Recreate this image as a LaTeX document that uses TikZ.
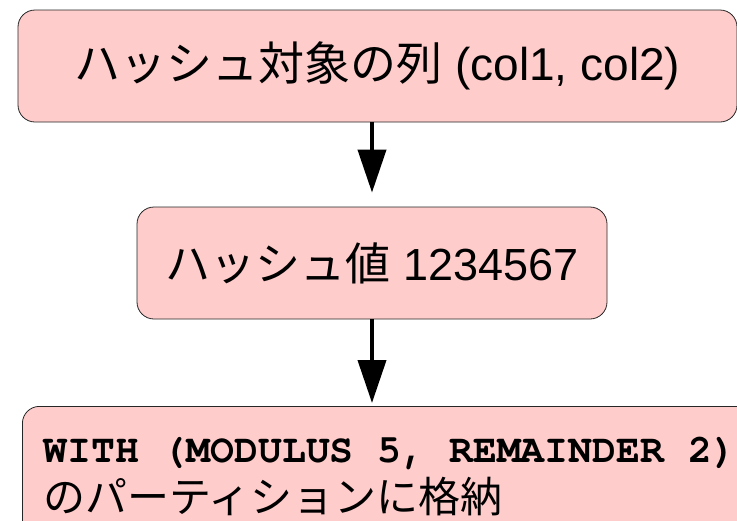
\documentclass[tikz,border=0pt]{standalone}
\usepackage{fontspec}
\setmainfont{Liberation Sans}
\setmonofont{TeX Gyre Cursor}[WordSpace={1,0,0}]
\newfontfamily\jp{Noto Sans CJK JP}
\usetikzlibrary{arrows.meta,positioning}

\begin{document}
\begin{tikzpicture}[x=1pt,y=-1pt,line width=4pt,
    >={Triangle[length=43pt,width=28pt]},
    stage node/.style={draw=black!85,line width=0.8pt,fill={rgb,255:red,255;green,204;blue,204},
        rounded corners=17pt,font=\fontsize{45}{52}\selectfont,inner sep=0pt}]

                \useasboundingbox (0,0) rectangle (737,520);
                \clip (0,0) rectangle (737,520);

                \node[stage node, minimum width=719pt, minimum height=112pt] (cols) at (377.5,66)
                    {{\jp\fontsize{46}{52}\selectfont ハッシュ対象の列} {\fontsize{46}{52}\selectfont (col1, col2)}};
                \node[stage node, minimum width=470pt, minimum height=112pt] (hash) at (372,263)
                    {{\jp ハッシュ値} 1234567};
                \node[stage node, anchor=north west, minimum height=140pt, text width=720pt,
                    align=left, inner xsep=21pt] (part) at (22,406)
                    {{\ttfamily\bfseries\fontsize{39.8}{42}\selectfont\spaceskip=0.6em\xspaceskip=0.6em WITH (MODULUS 5, REMAINDER 2)}\\[-2pt]
                    {\jp\fontsize{42}{46}\selectfont のパーティションに格納}\\[28pt]};

                \draw[->,shorten >=14pt] (cols.south -| hash) -- (hash.north);
                \draw[->,shorten >=3pt] (hash.south) -- (hash.south |- part.north);

            \end{tikzpicture}
\end{document}
